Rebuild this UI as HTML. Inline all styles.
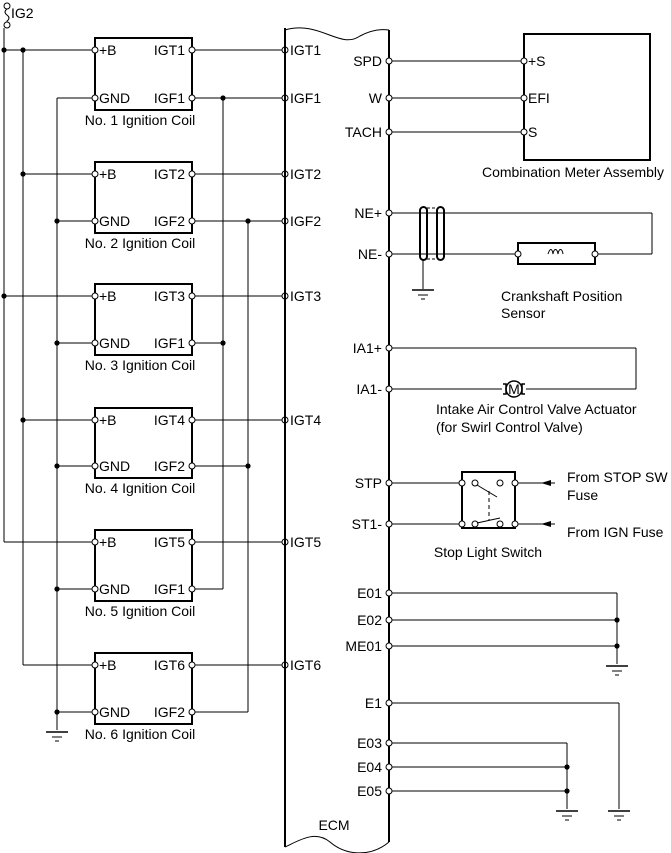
<!DOCTYPE html>
<html><head><meta charset="utf-8"><style>
html,body{margin:0;padding:0;background:#fff;}
svg{display:block;font-family:"Liberation Sans",Arial,sans-serif;font-size:14px;}
</style></head><body>
<svg id="s" width="671" height="853" viewBox="0 0 671 853" xmlns="http://www.w3.org/2000/svg">
<g id="g" stroke="#000" stroke-width="1" fill="none"></g>
<g id="t" fill="#000" stroke="none"></g>
</svg>
<script>
var g=document.getElementById('g'),t=document.getElementById('t');
var L='',T='';
function ln(x1,y1,x2,y2,w){L+='<line x1="'+x1+'" y1="'+y1+'" x2="'+x2+'" y2="'+y2+'"'+(w?' stroke-width="'+w+'"':'')+'/>';}
function pin(x,y){L+='<circle cx="'+x+'" cy="'+y+'" r="3" fill="#fff"/>';}
function dot(x,y){T+='<circle cx="'+x+'" cy="'+y+'" r="2.6"/>';}
function tx(x,y,s,a){T+='<text x="'+x+'" y="'+y+'"'+(a?' text-anchor="'+a+'"':'')+'>'+s+'</text>';}
function gnd(x,y){ln(x-11,y,x+11,y,1.5);ln(x-5,y+5,x+5,y+5);ln(x-2,y+9,x+2,y+9);}
L+='<circle cx="7" cy="6" r="3" fill="#fff"/><circle cx="7" cy="25" r="3" fill="#fff"/>';
L+='<path d="M7 9 q-4 3 0 6 q4 3 0 6 l0 1"/>';
tx(11,18,'IG2');
ln(4,28,4,542);ln(23,50,23,665);ln(57,98,57,730);gnd(57,732);
ln(223,98,223,589);ln(248,221,248,712);
var rows=[[50,98],[174,221],[296,343],[420,466],[542,589],[665,712]];
var bx=[4,23,4,23,4,23],gf=[223,248,223,248,223,248],fn=[1,2,1,2,1,2];
rows.forEach(function(r,i){
 var a=r[0],b=r[1];
 L+='<rect x="95" y="'+(a-12)+'" width="97" height="'+(b-a+24)+'" stroke-width="2"/>';
 ln(bx[i],a,95,a);ln(57,b,95,b);ln(192,a,285,a);ln(192,b,gf[i],b);
 pin(95,a);pin(95,b);pin(192,a);pin(192,b);pin(285,a);
 tx(99,a+5,'+B');tx(99,b+5,'GND');tx(185,a+5,'IGT'+(i+1),'end');tx(185,b+5,'IGF'+fn[i],'end');
 tx(140,b+27,'No. '+(i+1)+' Ignition Coil','middle');
 tx(290,a+5,'IGT'+(i+1));
 if(i<2){ln(gf[i],b,285,b);pin(285,b);tx(290,b+5,'IGF'+(i+1));}
 if(b!==98) dot(57,b);
});
dot(4,50);dot(23,50);dot(4,296);dot(23,174);dot(23,420);dot(223,98);dot(248,221);dot(223,343);dot(248,466);
L+='<path d="M285 30 C320 20 340 50 360 36 Q375 28 389 30" stroke-width="1"/>';
ln(285,28,285,847,2);ln(389,30,389,842,2);
L+='<path d="M285 847 C300 840 315 830 330 842 C345 855 370 858 389 842"/>';
tx(334,830,'ECM','middle');
L+='<rect x="524" y="34" width="126" height="126" stroke-width="2"/>';
[[61,'SPD','+S'],[98,'W','EFI'],[132,'TACH','S']].forEach(function(p){ln(389,p[0],524,p[0]);pin(389,p[0]);pin(524,p[0]);tx(382,p[0]+5,p[1],'end');tx(528,p[0]+5,p[2]);});
tx(573,177,'Combination Meter Assembly','middle');
ln(389,213,652,213);ln(652,213,652,254);ln(389,254,518,254);ln(595,254,652,254);
pin(389,213);pin(389,254);tx(382,218,'NE+','end');tx(382,259,'NE-','end');
L+='<rect x="420" y="207" width="7" height="53" rx="3.5" stroke-width="2"/><rect x="437" y="207" width="7" height="53" rx="3.5" stroke-width="2"/>';
L+='<line x1="427" y1="208" x2="437" y2="208" stroke-dasharray="3,2"/><line x1="427" y1="259" x2="437" y2="259" stroke-dasharray="3,2"/>';
ln(423,260,423,289);gnd(423,290);
L+='<rect x="518" y="243" width="77" height="21" stroke-width="2"/>';pin(518,254);pin(595,254);
L+='<path d="M548 254 c2 -6 4 -6 5 0 c1 -6 4 -6 5 0 c1 -6 4 -6 5 0"/>';
tx(501,301,'Crankshaft Position');tx(501,318,'Sensor');
ln(389,348,636,348);ln(636,348,636,389);ln(389,389,502,389);ln(526,389,636,389);
pin(389,348);pin(389,389);tx(382,353,'IA1+','end');tx(382,394,'IA1-','end');
L+='<circle cx="514" cy="389" r="8" stroke-width="1.5"/><path d="M503 384 h3 v10 h-3 M525 384 h-3 v10 h3" stroke-width="1.5"/>';
tx(514,394,'M','middle');
tx(436,414,'Intake Air Control Valve Actuator');tx(436,432,'(for Swirl Control Valve)');
L+='<rect x="462" y="472" width="53" height="56" stroke-width="2"/>';
ln(389,483,462,483);ln(515,483,555,483);ln(389,524,462,524);ln(515,524,555,524);
pin(389,483);pin(389,524);tx(382,488,'STP','end');tx(382,529,'ST1-','end');
[[462,483],[475,483],[500,483],[515,483],[462,524],[475,524],[500,524],[515,524]].forEach(function(p){pin(p[0],p[1]);});
ln(477,485,497,497);ln(477,523,500,518);
L+='<line x1="489" y1="491" x2="489" y2="520" stroke-dasharray="4,3"/>';
T+='<path d="M541 483 l10 -3 v6 z M541 524 l10 -3 v6 z"/>';
tx(567,482,'From STOP SW');tx(567,500,'Fuse');tx(567,537,'From IGN Fuse');
tx(488,557,'Stop Light Switch','middle');
[[593,'E01'],[620,'E02'],[646,'ME01']].forEach(function(p){ln(389,p[0],617,p[0]);pin(389,p[0]);tx(382,p[0]+5,p[1],'end');});
ln(617,593,617,664);dot(617,620);dot(617,646);gnd(617,666);
ln(389,703,619,703);pin(389,703);tx(382,708,'E1','end');ln(619,703,619,809);gnd(619,811);
[[743,'E03'],[767,'E04'],[791,'E05']].forEach(function(p){ln(389,p[0],567,p[0]);pin(389,p[0]);tx(382,p[0]+5,p[1],'end');});
ln(567,743,567,809);dot(567,767);dot(567,791);gnd(567,811);
g.innerHTML=L;t.innerHTML=T;
</script>
</body></html>
